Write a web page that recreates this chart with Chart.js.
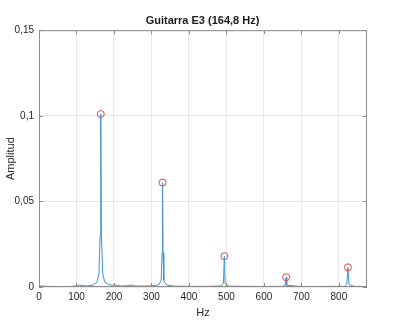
<!DOCTYPE html>
<html>
<head>
<meta charset="utf-8">
<script src="https://cdn.jsdelivr.net/npm/chart.js@4.4.0/dist/chart.umd.min.js"></script>
<style>
  html, body { margin: 0; padding: 0; background: #fff; }
  #wrap { width: 405px; height: 324px; }
</style>
</head>
<body>
<div id="wrap"><canvas id="spec"></canvas></div>
<script>
// spectrum (Hz, amplitude)
var freqs = [0, 5, 20, 50, 80, 100, 108, 115, 130, 145, 155, 160, 163, 164.8, 166.5, 170, 175, 185, 195, 200, 210, 220, 240, 247, 255, 280, 310, 320, 326, 328.5, 329.6, 330.8, 333, 340, 360, 400, 450, 485, 492, 494.4, 496.5, 505, 600, 650, 657, 659.2, 661, 700, 815, 821, 824, 827, 840, 875];
var amps = [0.0008, 0.0006, 0.0004, 0.0003, 0.0003, 0.0006, 0.0012, 0.0008, 0.0006, 0.0012, 0.003, 0.008, 0.03, 0.101, 0.03, 0.008, 0.003, 0.0015, 0.001, 0.0012, 0.0009, 0.0006, 0.0008, 0.0012, 0.0006, 0.0005, 0.0008, 0.0015, 0.004, 0.02, 0.061, 0.02, 0.004, 0.0012, 0.0005, 0.0004, 0.0004, 0.0006, 0.002, 0.018, 0.002, 0.0005, 0.0003, 0.0004, 0.001, 0.0057, 0.001, 0.0003, 0.0004, 0.0015, 0.0115, 0.0015, 0.0004, 0.0003];

// harmonic peaks marked with circles
var peakFreqs = [164.8, 329.6, 494.4, 659.2, 824];
var peakAmps = [0.101, 0.061, 0.018, 0.0057, 0.0115];

var xTicks = [0, 100, 200, 300, 400, 500, 600, 700, 800];
var yTicks = [0, 0.05, 0.1, 0.15];
var yTickLabels = ['0', '0,05', '0,1', '0,15'];

var lineData = freqs.map(function (f, i) { return { x: f, y: amps[i] }; });
var peakData = peakFreqs.map(function (f, i) { return { x: f, y: peakAmps[i] }; });

// box around plot area + inward ticks, matlab style
var boxPlugin = {
    id: 'box',
    afterDraw: function (chart) {
        var a = chart.chartArea, ctx = chart.ctx;
        var xs = chart.scales.x, ys = chart.scales.y;
        ctx.save();
        ctx.strokeStyle = '#8c8c8c';
        ctx.lineWidth = 1;
        ctx.strokeRect(a.left + 0.5, a.top + 0.5, a.right - a.left - 1, a.bottom - a.top - 1);
        ctx.beginPath();
        xTicks.forEach(function (v) {
            var px = Math.round(xs.getPixelForValue(v)) + 0.5;
            ctx.moveTo(px, a.bottom); ctx.lineTo(px, a.bottom - 4);
            ctx.moveTo(px, a.top); ctx.lineTo(px, a.top + 4);
        });
        yTicks.forEach(function (v) {
            var py = Math.round(ys.getPixelForValue(v)) + 0.5;
            ctx.moveTo(a.left, py); ctx.lineTo(a.left + 4, py);
            ctx.moveTo(a.right, py); ctx.lineTo(a.right - 4, py);
        });
        ctx.stroke();
        ctx.restore();
    }
};

var font = 'Liberation Sans, Arial, sans-serif';

new Chart(document.getElementById('spec'), {
    type: 'line',
    data: {
        datasets: [
            {
                data: peakData,
                showLine: false,
                pointStyle: 'circle',
                pointRadius: 3.5,
                pointBorderColor: '#e0454c',
                pointBackgroundColor: 'rgba(0,0,0,0)',
                pointBorderWidth: 1
            },
            {
                data: lineData,
                borderColor: '#3d95cb',
                borderWidth: 1,
                pointRadius: 0,
                tension: 0
            }
        ]
    },
    options: {
        responsive: true,
        maintainAspectRatio: false,
        animation: false,
        layout: { padding: 0 },
        plugins: {
            legend: { display: false },
            tooltip: { enabled: false },
            title: {
                display: true,
                text: 'Guitarra E3 (164,8 Hz)',
                color: '#1a1a1a',
                font: { family: font, size: 11, weight: 'bold' },
                padding: { top: 14, bottom: 3 }
            }
        },
        scales: {
            x: {
                type: 'linear',
                min: 0,
                max: 875,
                afterBuildTicks: function (s) { s.ticks = xTicks.map(function (v) { return { value: v }; }); },
                afterFit: function (s) { s.height = 37; },
                grid: { color: '#e8e8e8', drawTicks: false },
                border: { display: false },
                ticks: { color: '#262626', padding: 4, maxRotation: 0, font: { family: font, size: 10 } },
                title: { display: true, text: 'Hz', color: '#262626', padding: { top: 2 }, font: { family: font, size: 11 } }
            },
            y: {
                min: 0,
                max: 0.15,
                afterBuildTicks: function (s) { s.ticks = yTicks.map(function (v) { return { value: v }; }); },
                afterFit: function (s) { s.width = 39; },
                grid: { color: '#e8e8e8', drawTicks: false },
                border: { display: false },
                ticks: {
                    color: '#262626',
                    padding: 5,
                    font: { family: font, size: 10 },
                    callback: function (v) { return yTickLabels[yTicks.indexOf(v)]; }
                },
                title: { display: true, text: 'Amplitud', color: '#262626', padding: { bottom: 0 }, font: { family: font, size: 11 } }
            },
            // empty right axis, only reserves the margin so the title centres over the plot
            yRight: {
                position: 'right',
                min: 0,
                max: 0.15,
                afterFit: function (s) { s.width = 38; },
                grid: { display: false },
                border: { display: false },
                ticks: { display: false }
            }
        }
    },
    plugins: [boxPlugin]
});
</script>
</body>
</html>
